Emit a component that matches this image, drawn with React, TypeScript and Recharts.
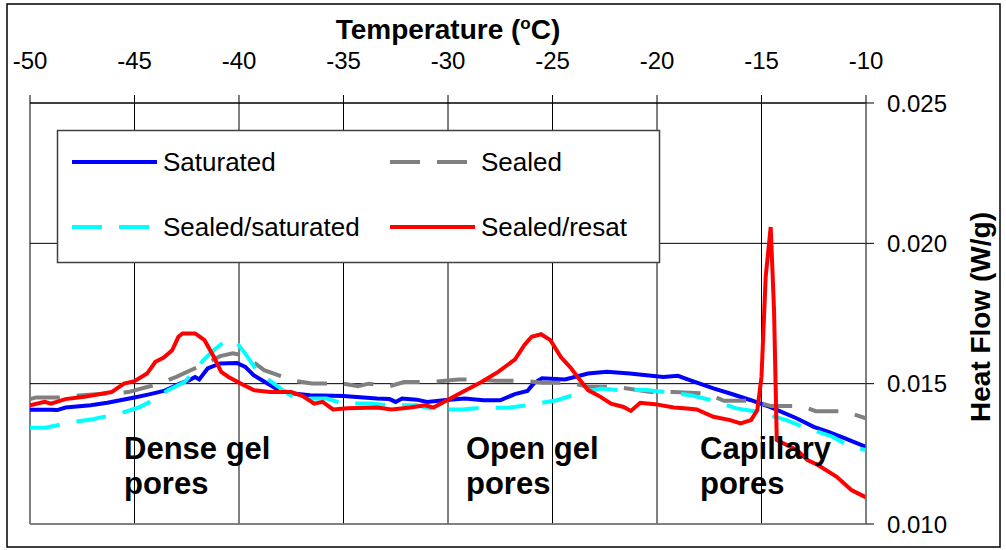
import React from 'react';
import { LineChart, Line, XAxis, YAxis, CartesianGrid, ReferenceLine } from 'recharts';

const FONT = '"Liberation Sans", Arial, sans-serif';

// axis ticks
const xTicks = [-50, -45, -40, -35, -30, -25, -20, -15, -10];
const yTicks = [0.01, 0.015, 0.02, 0.025];

// Saturated (blue)
const satTemp = [-50, -49, -48.7, -48.3, -47.1, -46.3, -45, -44.3, -43.6, -42.8, -42.4, -42.1, -41.9, -41.5, -40.9, -40.1, -39.7, -39.3, -38.9, -38.1, -37.4, -36.6, -35, -33.4, -32.8, -32.5, -32.2, -31.5, -31, -30.2, -29.2, -28.3, -27.5, -26.8, -26.2, -25.9, -25.5, -24.4, -23.3, -22.4, -21.3, -20.5, -19.7, -19, -18.4, -17.3, -16.5, -15.5, -14.6, -13.3, -12.5, -11.8, -11, -10];
const satHeat = [0.01407, 0.01407, 0.01406, 0.01415, 0.01423, 0.01432, 0.01451, 0.01462, 0.01474, 0.01501, 0.01512, 0.01524, 0.01515, 0.01554, 0.01572, 0.01574, 0.0156, 0.0153, 0.01512, 0.01477, 0.01465, 0.01459, 0.01456, 0.01447, 0.01445, 0.01435, 0.01447, 0.01443, 0.01435, 0.01441, 0.01447, 0.01441, 0.01441, 0.01463, 0.01474, 0.01501, 0.01519, 0.01515, 0.01536, 0.01542, 0.01536, 0.0153, 0.01524, 0.01528, 0.01512, 0.01483, 0.01465, 0.01441, 0.01417, 0.01376, 0.01346, 0.01328, 0.01305, 0.01275];

// Sealed (grey dashed)
const sealTemp = [-50, -49.7, -48.4, -47.5, -46.1, -45.3, -43.9, -43, -41.6, -40.9, -40.3, -39.7, -38.8, -37.35, -36.5, -35.1, -34.3, -33.8, -32.8, -32.1, -30.75, -29.5, -28.6, -27.7, -26.35, -25.5, -24.1, -23.3, -21.95, -20.3, -19.2, -17.6, -16.8, -15.4, -14.55, -13.1, -12.4, -11, -10];
const sealHeat = [0.01445, 0.01451, 0.01451, 0.01459, 0.01466, 0.0147, 0.01498, 0.01524, 0.01572, 0.01598, 0.01608, 0.016, 0.01548, 0.0151, 0.01501, 0.01501, 0.01491, 0.015, 0.01491, 0.01506, 0.01506, 0.01515, 0.01515, 0.0151, 0.0151, 0.01503, 0.01503, 0.01489, 0.01489, 0.0147, 0.0147, 0.01465, 0.01439, 0.01439, 0.0142, 0.0142, 0.01402, 0.01402, 0.01376];

// Sealed/saturated (cyan dashed)
const sealSatTemp = [-50, -49.2, -47.9, -47, -45.6, -44.8, -44, -43.4, -42.6, -41.7, -41.2, -40.8, -40.5, -40.1, -39.7, -39.1, -37.9, -37.3, -35.8, -35, -33.7, -32.8, -31.5, -30.6, -29.3, -28.4, -27.1, -26.2, -24.8, -24, -22.7, -21.8, -20.5, -19.7, -18.4, -17.4, -16.2, -15.2, -13.8, -13, -11.6, -10.9, -10];
const sealSatHeat = [0.01343, 0.01344, 0.01364, 0.01373, 0.01396, 0.01415, 0.01445, 0.01477, 0.01506, 0.01584, 0.0162, 0.01643, 0.01655, 0.01645, 0.01607, 0.01542, 0.01477, 0.01447, 0.01447, 0.01429, 0.01429, 0.01423, 0.01423, 0.01408, 0.01408, 0.01414, 0.01414, 0.01423, 0.01441, 0.01459, 0.01483, 0.01477, 0.01477, 0.01471, 0.01459, 0.01441, 0.01412, 0.014, 0.0137, 0.01346, 0.01311, 0.01281, 0.01263];

// Sealed/resat (red)
const resatTemp = [-50, -49.3, -49, -48.3, -47.4, -46.1, -45.5, -45, -44.4, -44, -43.6, -43.2, -42.9, -42.7, -42.1, -41.65, -41.2, -40.85, -40.5, -39.9, -39.3, -38.5, -37.5, -36.95, -36.4, -36, -35.5, -34.8, -33.4, -32.7, -31.8, -31.1, -30.7, -30.2, -29.4, -28.4, -27.6, -26.8, -26.35, -26, -25.55, -25.1, -24.6, -24.1, -23.8, -23.3, -22.7, -22.2, -21.6, -21.25, -20.8, -20.1, -19.2, -18.7, -18.1, -17.3, -16.5, -16, -15.5, -15.2, -15, -14.8, -14.56, -14.4, -14.27, -13.3, -12.8, -12.3, -11.4, -10.7, -10];
const resatHeat = [0.01423, 0.01435, 0.01429, 0.01445, 0.01453, 0.0147, 0.015, 0.01509, 0.01536, 0.01578, 0.01593, 0.01619, 0.01667, 0.01679, 0.01679, 0.01655, 0.01595, 0.01542, 0.01524, 0.015, 0.01477, 0.0147, 0.0147, 0.01456, 0.01429, 0.01435, 0.01408, 0.01412, 0.01415, 0.01408, 0.01415, 0.01423, 0.01415, 0.01435, 0.01467, 0.01506, 0.01542, 0.01586, 0.01637, 0.01667, 0.01676, 0.01655, 0.01595, 0.01554, 0.01524, 0.01477, 0.01453, 0.01429, 0.01417, 0.01403, 0.01432, 0.01427, 0.01415, 0.01412, 0.01408, 0.01382, 0.0137, 0.01358, 0.0137, 0.01406, 0.01524, 0.0188, 0.02058, 0.01762, 0.01299, 0.01263, 0.01228, 0.0121, 0.01168, 0.01121, 0.01095];

const zip = (ts: number[], vs: number[]) => ts.map((t, i) => ({ t, hf: vs[i] }));

const saturatedData = zip(satTemp, satHeat);
const sealedData = zip(sealTemp, sealHeat);
const sealedSatData = zip(sealSatTemp, sealSatHeat);
const resatData = zip(resatTemp, resatHeat);

const DASH = '30 17';

const App: React.FC = () => {
  return (
    <div style={{ position: 'absolute', left: 0, top: 0, width: 1006, height: 550, background: '#fff', fontFamily: FONT }}>
      <LineChart width={1006} height={550} margin={{ top: 63, right: 50, bottom: 26, left: 30 }}>
        <CartesianGrid stroke="#000" strokeWidth={1} />
        <XAxis
          type="number"
          dataKey="t"
          orientation="top"
          domain={[-50, -10]}
          ticks={xTicks}
          allowDataOverflow
          height={40}
          tickSize={8}
          tickMargin={26}
          axisLine={{ stroke: '#000' }}
          tickLine={{ stroke: '#000' }}
          tick={{ fill: '#000', fontSize: 24, fontFamily: FONT }}
        />
        <YAxis
          type="number"
          orientation="right"
          domain={[0.01, 0.025]}
          ticks={yTicks}
          allowDataOverflow
          width={90}
          tickSize={8}
          tickMargin={13}
          tickFormatter={(v: number) => v.toFixed(3)}
          axisLine={{ stroke: '#808080' }}
          tickLine={{ stroke: '#000' }}
          tick={{ fill: '#000', fontSize: 24, fontFamily: FONT }}
        />
        <ReferenceLine y={0.01} stroke="#808080" strokeWidth={1.5} />
        <Line data={saturatedData} dataKey="hf" stroke="#0000ff" strokeWidth={4} dot={false} activeDot={false} isAnimationActive={false} />
        <Line data={sealedData} dataKey="hf" stroke="#808080" strokeWidth={4} strokeDasharray={DASH} dot={false} activeDot={false} isAnimationActive={false} />
        <Line data={sealedSatData} dataKey="hf" stroke="#00ffff" strokeWidth={4} strokeDasharray={DASH} dot={false} activeDot={false} isAnimationActive={false} />
        <Line data={resatData} dataKey="hf" stroke="#ff0000" strokeWidth={4} dot={false} activeDot={false} isAnimationActive={false} />
      </LineChart>

      <svg width={1006} height={550} style={{ position: 'absolute', left: 0, top: 0, pointerEvents: 'none' }}>
        {/* outer frame */}
        <rect x={7} y={4} width={993} height={543} fill="none" stroke="#000" strokeWidth={1.5} />

        {/* axis titles */}
        <text x={448} y={39} textAnchor="middle" fontSize={28} fontWeight="bold" fill="#000" fontFamily={FONT}>
          Temperature (<tspan dy={-10} fontSize={17}>o</tspan><tspan dy={10}>C)</tspan>
        </text>
        <text transform="translate(990,317) rotate(-90)" textAnchor="middle" fontSize={28} fontWeight="bold" fill="#000" fontFamily={FONT}>
          Heat Flow (W/g)
        </text>

        {/* legend */}
        <rect x={57.5} y={130.5} width={602} height={132} fill="#fff" stroke="#404040" strokeWidth={1.5} />
        <line x1={72} x2={157} y1={162} y2={162} stroke="#0000ff" strokeWidth={4} />
        <text x={163} y={171} fontSize={26} fill="#000" fontFamily={FONT}>Saturated</text>
        <line x1={390} x2={467} y1={162} y2={162} stroke="#808080" strokeWidth={4} strokeDasharray={DASH} />
        <text x={481} y={171} fontSize={26} fill="#000" fontFamily={FONT}>Sealed</text>
        <line x1={72} x2={149} y1={227} y2={227} stroke="#00ffff" strokeWidth={4} strokeDasharray={DASH} />
        <text x={163} y={236} fontSize={26} fill="#000" fontFamily={FONT}>Sealed/saturated</text>
        <line x1={390} x2={475} y1={227} y2={227} stroke="#ff0000" strokeWidth={4} />
        <text x={481} y={236} fontSize={26} fill="#000" fontFamily={FONT}>Sealed/resat</text>

        {/* pore annotations */}
        <g fontSize={31} fontWeight="bold" fill="#000" fontFamily={FONT}>
          <text x={124} y={459}>Dense gel</text>
          <text x={124} y={494}>pores</text>
          <text x={466} y={459}>Open gel</text>
          <text x={466} y={494}>pores</text>
          <text x={700} y={459}>Capillary</text>
          <text x={700} y={494}>pores</text>
        </g>
      </svg>
    </div>
  );
};

export default App;
